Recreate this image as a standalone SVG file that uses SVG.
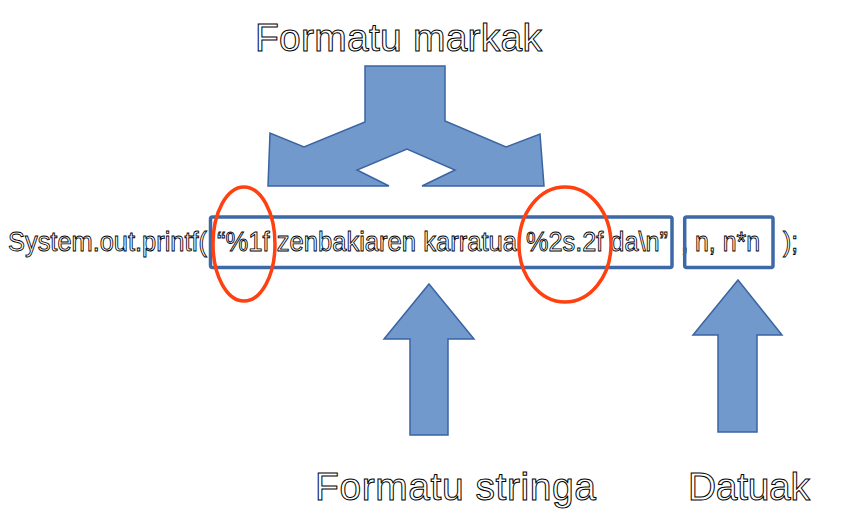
<svg xmlns="http://www.w3.org/2000/svg" width="843" height="518" viewBox="0 0 843 518">
<style>
.t{font-family:"Liberation Sans",Arial,sans-serif;fill:#fff;stroke:#000;stroke-width:1}
.title{font-size:39px}
.code{font-size:27px;stroke-width:0.9}
.arrow{fill:#7199cb;stroke:#3a64a3;stroke-width:1.5;stroke-linejoin:miter}
.box{fill:none;stroke:#3d69a6;stroke-width:3.5}
.oval{fill:none;stroke:#ff4010;stroke-width:3.5}
</style>
<rect width="843" height="518" fill="#fff"/>
<g id="code-line">
<text class="t code" x="8" y="251" textLength="199" lengthAdjust="spacingAndGlyphs">System.out.printf(</text>
<text class="t code" x="217" y="251" textLength="300" lengthAdjust="spacingAndGlyphs">“%1f zenbakiaren karratua</text>
<text class="t code" x="526" y="251" textLength="142" lengthAdjust="spacingAndGlyphs">%2s.2f da\n”</text>
<text class="t code" x="681" y="251">,</text>
<text class="t code" x="695" y="251" textLength="65" lengthAdjust="spacingAndGlyphs">n, n*n</text>
<text class="t code" x="783" y="251" textLength="15" lengthAdjust="spacingAndGlyphs">);</text>
</g>
<g id="format-string-box"><rect class="box" x="210.5" y="217" width="461.5" height="50.5" rx="2"/></g>
<g id="data-box"><rect class="box" x="684.7" y="217" width="88.3" height="50.5" rx="2"/></g>
<g id="oval-1"><ellipse class="oval" cx="244" cy="244" rx="31" ry="57"/></g>
<g id="oval-2"><ellipse class="oval" cx="565" cy="244.5" rx="46" ry="57.5"/></g>
<g id="format-marks-arrow">
<polygon class="arrow" points="365,66 445,66 445,121 506,147 540,134 544,186 422,186 455,170 407,149 357,170 389,186 268,186 270,133 304,147 365,122"/>
</g>
<g id="format-string-arrow">
<polygon class="arrow" points="429,284 474,339 448,339 448,435 410,435 410,339 384,339"/>
</g>
<g id="data-arrow">
<polygon class="arrow" points="738,280 782,335 757,335 757,432 718,432 718,335 693,335"/>
</g>
<g id="label-format-marks"><text class="t title" x="255" y="51" textLength="287">Formatu markak</text></g>
<g id="label-format-string"><text class="t title" x="315" y="500" textLength="281">Formatu stringa</text></g>
<g id="label-data"><text class="t title" x="688" y="500" textLength="122">Datuak</text></g>
</svg>
